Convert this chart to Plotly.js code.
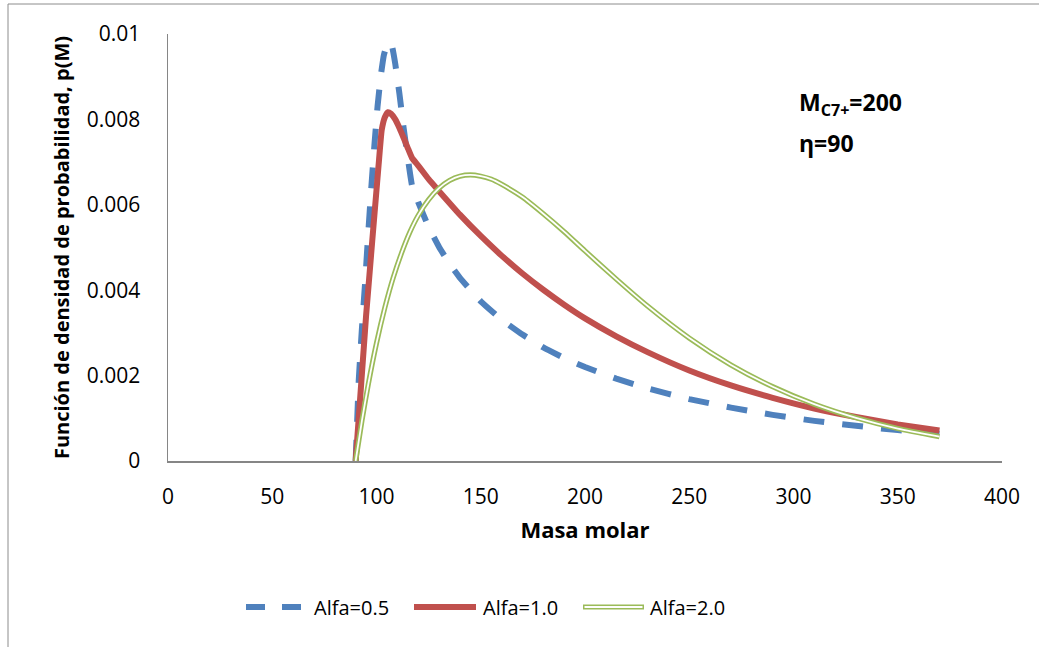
<!DOCTYPE html>
<html>
<head>
<meta charset="utf-8">
<script src="https://cdn.plot.ly/plotly-3.0.1.min.js"></script>
<style>html,body{margin:0;padding:0;background:#fff;}#chart{width:1039px;height:647px;}</style>
</head>
<body>
<div id="chart"></div>
<script>
// ---- data ----
const seriesNames = ["Alfa=0.5", "Alfa=1.0", "Alfa=2.0"];

const xAlfa05 = [90, 91.5, 93, 94.5, 96, 97.5, 99, 100.5, 102, 103.5, 105.5, 107.5, 109, 111, 113, 115, 117, 120, 125, 130, 135, 140, 150, 160, 170, 180, 190, 200, 215, 230, 250, 270, 290, 310, 330, 350, 370];
const yAlfa05 = [0, 0.0019, 0.0031, 0.00415, 0.0053, 0.0064, 0.0074, 0.0083, 0.0090, 0.0095, 0.00982, 0.0097, 0.0093, 0.0086, 0.0078, 0.0071, 0.00646, 0.00606, 0.00548, 0.00501, 0.00462, 0.00429, 0.00374, 0.00331, 0.00296, 0.00266, 0.00241, 0.0022, 0.00193, 0.0017, 0.00145, 0.00125, 0.00108, 0.00094, 0.000825, 0.000723, 0.000637];

const xAlfa10 = [90, 95, 101, 102.5, 104, 105.5, 107, 109, 111, 113, 115, 117, 120, 125, 130, 140, 150, 160, 170, 180, 190, 200, 215, 230, 250, 270, 290, 310, 330, 350, 370];
const yAlfa10 = [0, 0.0034, 0.00693, 0.00775, 0.00805, 0.00817, 0.00813, 0.008, 0.0078, 0.00757, 0.00733, 0.0071, 0.00692, 0.0066, 0.00632, 0.00577, 0.00527, 0.00481, 0.00439, 0.00401, 0.00366, 0.00334, 0.00292, 0.00255, 0.00212, 0.00177, 0.00148, 0.00123, 0.00103, 0.000855, 0.000713];

const xAlfa20 = [90, 93, 96, 100, 104, 108, 112, 116, 120, 125, 130, 135, 140, 145, 150, 155, 160, 170, 180, 190, 200, 215, 230, 250, 270, 290, 310, 330, 350, 370];
const yAlfa20 = [0, 0.00094, 0.00178, 0.00276, 0.00359, 0.00429, 0.00487, 0.00536, 0.00575, 0.00612, 0.00639, 0.00657, 0.00667, 0.0067, 0.00667, 0.0066, 0.00648, 0.00618, 0.00579, 0.00537, 0.00492, 0.00426, 0.00363, 0.00288, 0.00225, 0.00174, 0.00133, 0.00101, 0.00076, 0.00057];

const xTitle = "Masa molar";
const yTitle = "Función de densidad de probabilidad, p(M)";
const noteLine1 = "<b>M<sub>C7+</sub>=200</b>";
const noteLine2 = "<b>η=90</b>";

// ---- styles ----
const BLUE = "#4F81BD", RED = "#C0504D", GREEN = "#9BBB59";
const FONT = "Open Sans, Liberation Sans, sans-serif";

const traces = [
  {x: xAlfa05, y: yAlfa05, name: seriesNames[0], mode: "lines",
   line: {color: BLUE, width: 6, dash: "21px,18px", shape: "spline", smoothing: 0.3}},
  {x: xAlfa10, y: yAlfa10, name: seriesNames[1], mode: "lines",
   line: {color: RED, width: 6, shape: "spline", smoothing: 0.4}},
  {x: xAlfa20, y: yAlfa20, name: seriesNames[2], mode: "lines",
   line: {color: GREEN, width: 5.2, shape: "spline", smoothing: 0.6}},
  {x: xAlfa20, y: yAlfa20, name: seriesNames[2], mode: "lines", showlegend: false, hoverinfo: "skip",
   line: {color: "#ffffff", width: 1.8, shape: "spline", smoothing: 0.6}}
];

// plot area in px: x 168..1002, y 34..461
const L = 168, R = 1002, T = 34, B = 461;
const px2x = p => (p - L) / (R - L);
const py2y = p => (B - p) / (B - T);

const legY = py2y(607);
const shapes = [
  // chart border (left & top visible)
  {type: "rect", xref: "paper", yref: "paper", x0: px2x(8), x1: px2x(1060), y0: py2y(670), y1: py2y(4),
   line: {color: "#8c8c8c", width: 1}, fillcolor: "rgba(0,0,0,0)", layer: "below"},
  // legend samples
  {type: "line", xref: "paper", yref: "paper", x0: px2x(246), x1: px2x(265), y0: legY, y1: legY, line: {color: BLUE, width: 6}},
  {type: "line", xref: "paper", yref: "paper", x0: px2x(282), x1: px2x(301), y0: legY, y1: legY, line: {color: BLUE, width: 6}},
  {type: "line", xref: "paper", yref: "paper", x0: px2x(414), x1: px2x(476), y0: legY, y1: legY, line: {color: RED, width: 6}},
  {type: "line", xref: "paper", yref: "paper", x0: px2x(583), x1: px2x(644), y0: legY, y1: legY, line: {color: GREEN, width: 5.2}},
  {type: "line", xref: "paper", yref: "paper", x0: px2x(584.5), x1: px2x(642.5), y0: legY, y1: legY, line: {color: "#ffffff", width: 1.8}}
];

const legFont = {family: FONT, size: 20, color: "#000"};
const noteFont = {family: FONT, size: 23, color: "#000"};
const annotations = [
  {xref: "paper", yref: "paper", x: px2x(312), y: legY, text: seriesNames[0], showarrow: false, xanchor: "left", yanchor: "middle", font: legFont},
  {xref: "paper", yref: "paper", x: px2x(481), y: legY, text: seriesNames[1], showarrow: false, xanchor: "left", yanchor: "middle", font: legFont},
  {xref: "paper", yref: "paper", x: px2x(648), y: legY, text: seriesNames[2], showarrow: false, xanchor: "left", yanchor: "middle", font: legFont},
  {xref: "paper", yref: "paper", x: px2x(797), y: py2y(104), text: noteLine1, showarrow: false, xanchor: "left", yanchor: "middle", font: noteFont},
  {xref: "paper", yref: "paper", x: px2x(797), y: py2y(143), text: noteLine2, showarrow: false, xanchor: "left", yanchor: "middle", font: noteFont}
];

const layout = {
  width: 1039, height: 647,
  margin: {l: L, r: 1039 - R, t: T, b: 647 - B},
  paper_bgcolor: "#ffffff", plot_bgcolor: "#ffffff",
  showlegend: false,
  font: {family: FONT, size: 21, color: "#000"},
  xaxis: {
    range: [0, 400], dtick: 50, tick0: 0, showgrid: false, zeroline: false,
    showline: true, linecolor: "#868686", linewidth: 1.5, ticks: "", ticklabelstandoff: 16,
    tickfont: {family: FONT, size: 21, color: "#000"},
    title: {text: "<b>" + xTitle + "</b>", standoff: 14, font: {family: FONT, size: 22, color: "#000"}},
    automargin: false
  },
  yaxis: {
    range: [0, 0.01], dtick: 0.002, tick0: 0, showgrid: false, zeroline: false,
    showline: true, linecolor: "#868686", linewidth: 1.5, ticks: "", ticklabelstandoff: 22,
    tickfont: {family: FONT, size: 21, color: "#000"},
    title: {text: "<b>" + yTitle + "</b>", standoff: 12, font: {family: FONT, size: 20, color: "#000"}},
    automargin: false
  },
  shapes: shapes,
  annotations: annotations
};

Plotly.newPlot("chart", traces, layout, {displayModeBar: false, staticPlot: true});
</script>
</body>
</html>
